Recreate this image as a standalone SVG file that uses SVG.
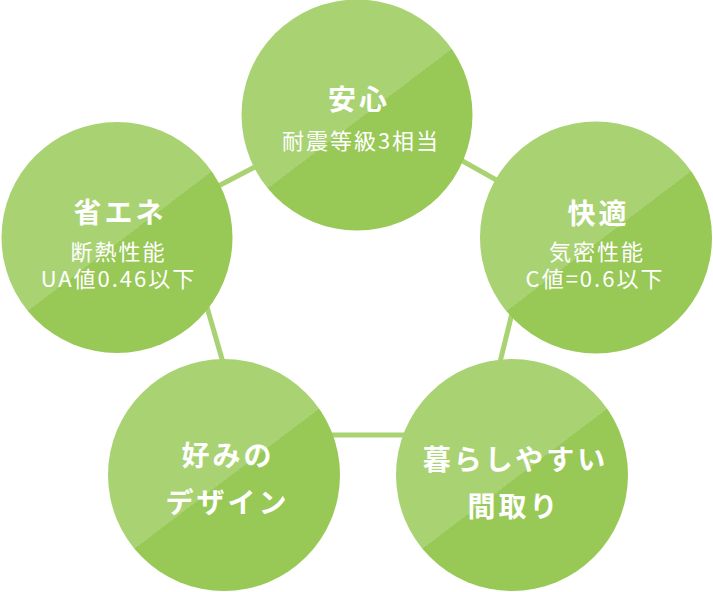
<svg xmlns="http://www.w3.org/2000/svg" width="713" height="592" viewBox="0 0 713 592">
<style>
.conn{stroke:#a9d373;stroke-width:5;fill:none}
.disc{fill:url(#split)}
.t{fill:#fff;font-family:"Noto Sans CJK JP","Noto Sans",sans-serif;font-weight:700;font-size:28px;letter-spacing:3px;text-anchor:middle}
.s{fill:#fff;font-family:"Noto Sans CJK JP","Noto Sans",sans-serif;font-weight:400;font-size:22px;letter-spacing:2px;text-anchor:middle}
</style>
<defs>
<linearGradient id="split" x1="0.198" y1="0.1015" x2="0.802" y2="0.8985">
<stop offset="0" stop-color="#a9d373"/>
<stop offset="0.52" stop-color="#a9d373"/>
<stop offset="0.52" stop-color="#98c856"/>
<stop offset="1" stop-color="#98c856"/>
</linearGradient>
</defs>
<g id="connectors">
<line class="conn" x1="368" y1="108" x2="539" y2="204"/>
<line class="conn" x1="539" y1="204" x2="482" y2="435"/>
<line class="conn" x1="482" y1="435" x2="244" y2="435"/>
<line class="conn" x1="244" y1="435" x2="178" y2="207"/>
<line class="conn" x1="178" y1="207" x2="368" y2="108"/>
</g>
<g id="anshin">
<circle class="disc" cx="357" cy="115" r="115.5"/>
<text class="t" x="359" y="110">安心</text>
<text class="s" x="361" y="148.5">耐震等級3相当</text>
</g>
<g id="shoene">
<circle class="disc" cx="117" cy="237.5" r="115.5"/>
<text class="t" x="120" y="223">省エネ</text>
<text class="s" x="118.5" y="260">断熱性能</text>
<text class="s" x="118.5" y="286.5">UA値0.46以下</text>
</g>
<g id="kaiteki">
<circle class="disc" cx="596" cy="237.5" r="116"/>
<text class="t" x="598.5" y="224">快適</text>
<text class="s" x="597" y="260">気密性能</text>
<text class="s" x="595" y="286.5">C値=0.6以下</text>
</g>
<g id="design">
<circle class="disc" cx="224" cy="475" r="116"/>
<text class="t" x="228" y="466">好みの</text>
<text class="t" x="227.5" y="513">デザイン</text>
</g>
<g id="madori">
<circle class="disc" cx="512" cy="475" r="116"/>
<text class="t" x="515.5" y="470">暮らしやすい</text>
<text class="t" x="514" y="517">間取り</text>
</g>
</svg>
